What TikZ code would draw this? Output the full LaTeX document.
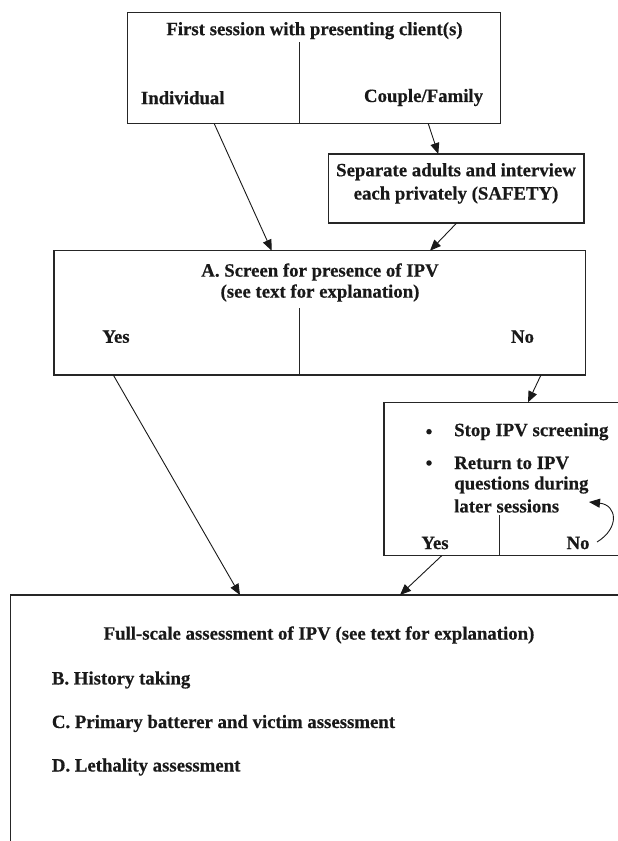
\documentclass[tikz,border=0pt]{standalone}
\usepackage{fontspec}
\setmainfont{Liberation Serif}
\newfontfamily\heavyfont{Liberation Serif Bold}[FakeBold=0.5]
\usetikzlibrary{arrows.meta,calc}
\begin{document}
\begin{tikzpicture}[x=1pt,y=-1pt,
  box/.style={draw=black!85,line width=1.2pt},
  txt/.style={inner sep=0pt,font=\fontsize{18.8}{22}\selectfont\heavyfont,text=black!90},
  conn/.style={draw=black!90,line width=0.9pt,-{Triangle[length=11pt,width=9pt]}},
  sep/.style={draw=black!85,line width=1pt},
  dot/.style={circle,fill=black!90,inner sep=0pt,minimum size=5.5pt}]
\useasboundingbox (0,0) rectangle (618,841);
\clip (0,0) rectangle (618,841);
% boxes
\path[box] (127.3,12.3) rectangle (500.7,123.8);
\coordinate (topS1) at (214.3,123.8);
\coordinate (topS2) at (428.3,123.8);
\path[sep] (299.3,42) -- (299.3,123.8);
\path[box] (328.3,154) rectangle (584,223);
\coordinate (sepN) at (438.3,154);
\coordinate (sepS) at (456.7,223);
\path[box] (54,250.7) rectangle (585.3,375);
\coordinate (scrN1) at (271.7,250.7);
\coordinate (scrN2) at (430,250.7);
\coordinate (scrS1) at (113.3,375);
\coordinate (scrS2) at (541,375);
\path[sep] (299,308) -- (299,375);
\path[box] (384,402.3) rectangle (640,555.7);
\coordinate (stopN) at (528,402.3);
\coordinate (stopS) at (441.7,555.7);
\path[sep] (499,515) -- (499,555.7);
\path[box] (10.7,595) rectangle (650,900);
\coordinate (bigN1) at (240,595);
\coordinate (bigN2) at (400,595);
% texts
\node[txt] (t1) at (314.5,30.7) {First session with presenting client(s)};
\node[txt,anchor=west] (ind) at (140.7,97.7) {Individual};
\node[txt,anchor=east] (cf) at (483.3,97.5) {Couple/Family};
\node[txt,align=center,font=\fontsize{18.8}{23.3}\selectfont\heavyfont] (sepT) at (456,183.4) {Separate adults and interview\\each privately (SAFETY)};
\node[txt,align=center,font=\fontsize{18.8}{21}\selectfont\heavyfont] (scrT) at (320,282.5) {A. Screen for presence of IPV\\(see text for explanation)};
\node[txt] (yes1) at (116,336.7) {Yes};
\node[txt] (no1) at (522.5,336.7) {No};
\node[dot] (b1) at (429,431.7) {};
\node[dot] (b2) at (429,463) {};
\node[txt,anchor=west] (s1) at (454,431.7) {Stop IPV screening};
\node[txt,anchor=west] (s2) at (454,463) {Return to IPV};
\node[txt,anchor=west] (s3) at (454,485) {questions during};
\node[txt,anchor=west] (s4) at (454,506) {later sessions};
\node[txt] (yes2) at (435,543) {Yes};
\node[txt] (no2) at (578,543) {No};
\node[txt] (full) at (319,635) {Full-scale assessment of IPV (see text for explanation)};
\node[txt,anchor=west] (B) at (51.7,680) {B. History taking};
\node[txt,anchor=west] (C) at (51.7,723.5) {C. Primary batterer and victim assessment};
\node[txt,anchor=west] (D) at (51.7,767) {D. Lethality assessment};
% connectors
\draw[conn] (topS1) -- (scrN1);
\draw[conn] (topS2) -- (sepN);
\draw[conn] (sepS) -- (scrN2);
\draw[conn] (scrS2) -- (stopN);
\draw[conn] (scrS1) -- (bigN1);
\draw[conn] (stopS) -- (bigN2);
\coordinate (loopA) at (597,542);
\coordinate (loopB) at (589,502);
\draw[conn] (loopA) .. controls (620,528) and (617,505) .. (loopB);
\end{tikzpicture}
\end{document}
